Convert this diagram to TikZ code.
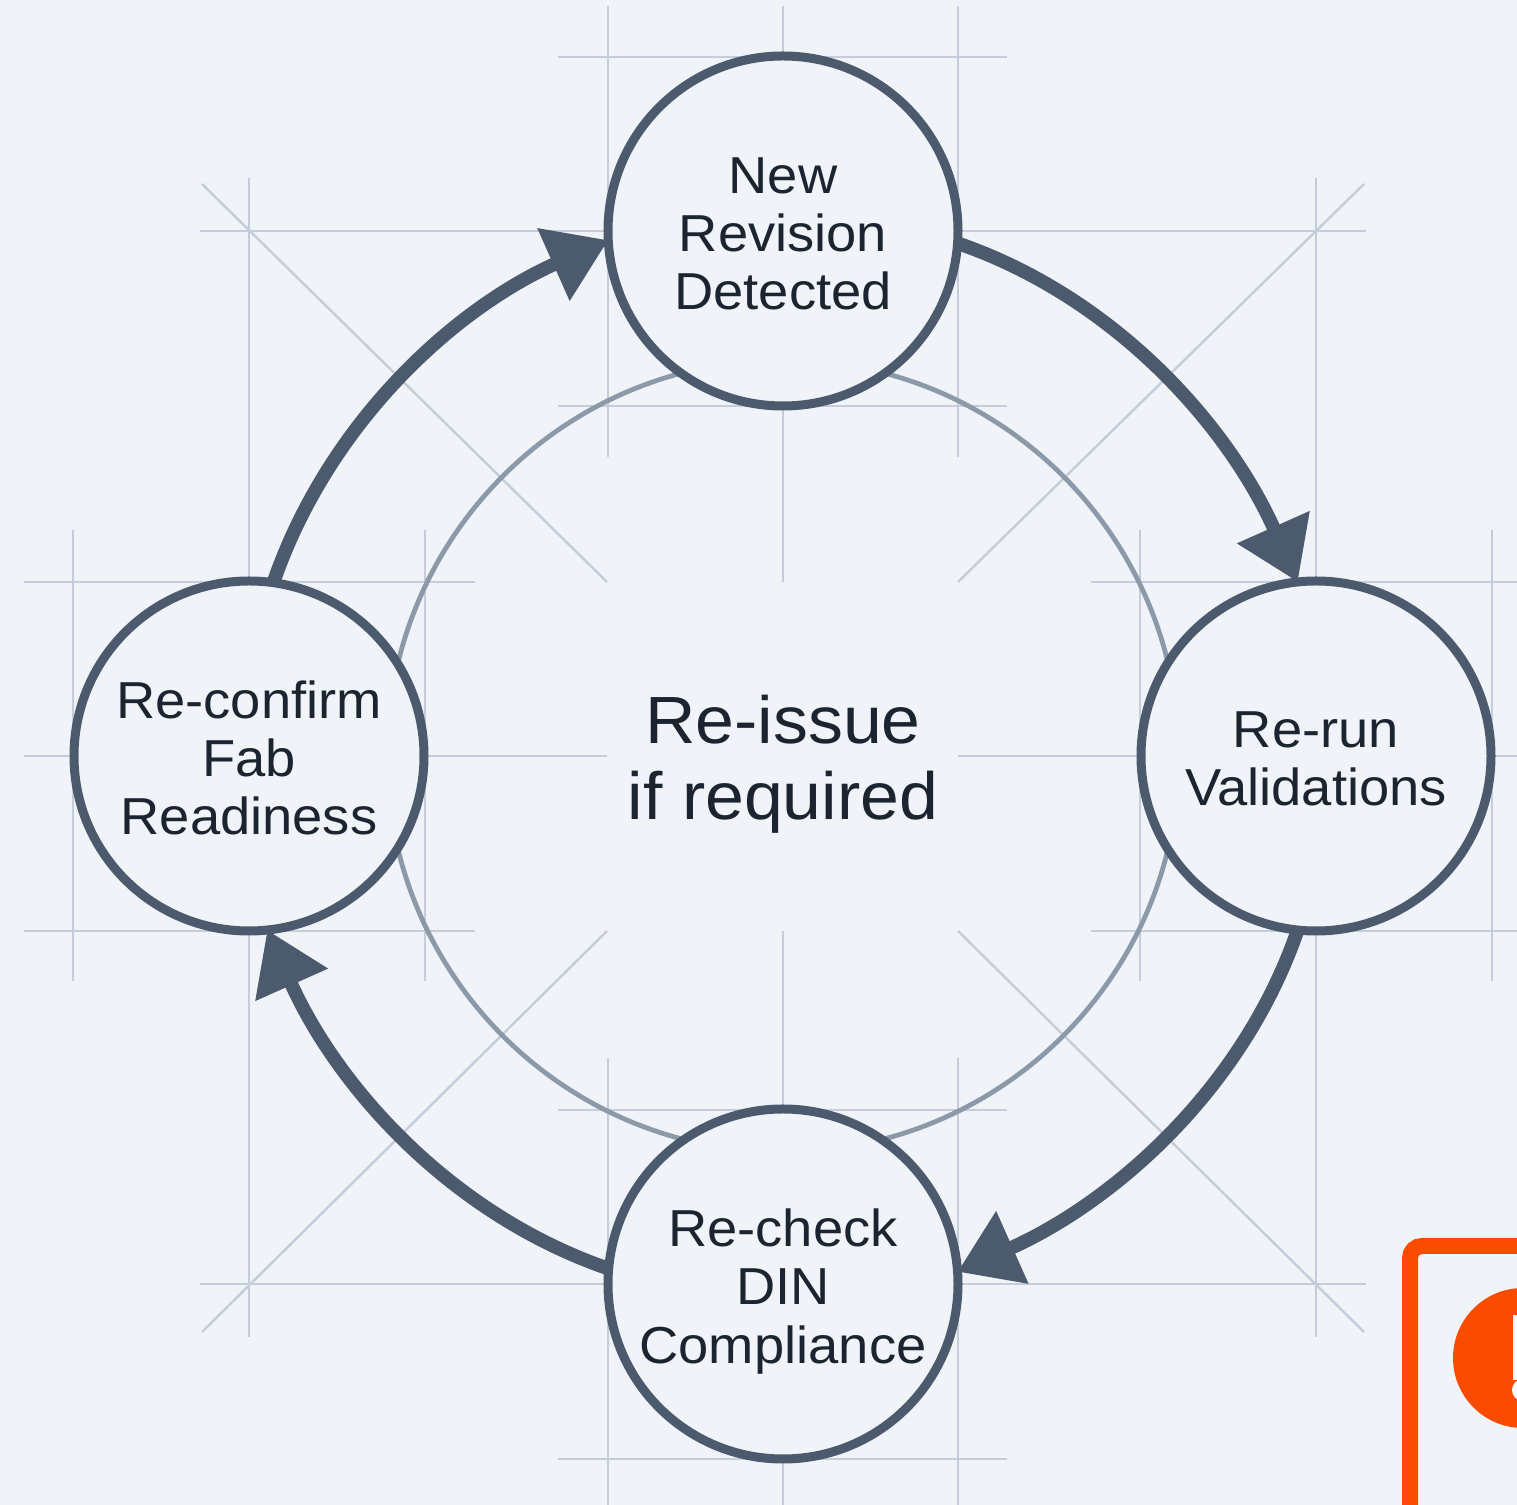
\documentclass[tikz,border=0pt]{standalone}
\usepackage{fontspec}
\setmainfont[FakeStretch=1.045]{Liberation Sans}
\usetikzlibrary{arrows.meta}
\definecolor{bgc}{HTML}{F0F4F9}
\definecolor{guide}{HTML}{C4CDD9}
\definecolor{ringc}{HTML}{8C99A9}
\definecolor{slate}{HTML}{4C5A6D}
\definecolor{ink}{HTML}{1C2430}
\definecolor{alert}{HTML}{F94C00}
\tikzset{
  guideline/.style={draw=guide,line width=1.2pt},
  stage/.style={circle,draw=slate,fill=bgc,line width=4.5pt,minimum size=175pt,inner sep=0pt,outer sep=0pt,
    align=center,text=ink,font=\fontsize{26}{29.2}\selectfont},
  centre/.style={align=center,text=ink,inner sep=0pt,font=\fontsize{33.4}{38}\selectfont},
  flow/.style={draw=slate,line width=6.8pt,looseness=0.9,-{Triangle[length=30pt,width=38pt]}}
}
\newcommand{\lift}{\rule{0pt}{20.8pt}}
\begin{document}
\begin{tikzpicture}[x=0.5pt,y=0.5pt]
\useasboundingbox (0,0) rectangle (1517,1505);
\clip (0,0) rectangle (1517,1505);
\fill[bgc] (0,0) rectangle (1517,1505);
% construction guides: top
\foreach \yy in {1448,1099,395,46} \draw[guideline] (558,\yy) -- (1007,\yy);
\foreach \xx in {608,958} {\draw[guideline] (\xx,1499) -- (\xx,1048); \draw[guideline] (\xx,447) -- (\xx,0);}
\draw[guideline] (783,1499) -- (783,923);
\draw[guideline] (783,574) -- (783,0);
% left and right squares
\foreach \yy in {923,574} {\draw[guideline] (24,\yy) -- (475,\yy); \draw[guideline] (1091,\yy) -- (1517,\yy);}
\foreach \xx in {73,425,1140,1492} \draw[guideline] (\xx,975) -- (\xx,524);
\draw[guideline] (24,749) -- (607,749);
\draw[guideline] (958,749) -- (1517,749);
\foreach \yy in {1274,221} \draw[guideline] (200,\yy) -- (1366,\yy);
\foreach \xx in {249,1316} {\draw[guideline] (\xx,1327) -- (\xx,923); \draw[guideline] (\xx,574) -- (\xx,168);}
\draw[guideline] (202,1321) -- (607,923);
\draw[guideline] (1364,1321) -- (958,923);
\draw[guideline] (202,173) -- (607,574);
\draw[guideline] (1364,173) -- (958,574);
% inner ring
\draw[ringc,line width=2.4pt] (783,749) circle[radius=396];
% stages
\node[stage] (top) at (783,1274) {\lift New\\Revision\\Detected};
\node[stage] (right) at (1316,749) {\lift Re-run\\Validations};
\node[stage] (bottom) at (783,221) {\lift Re-check\\DIN\\\smash{Compliance}};
\node[stage] (left) at (249,749) {\lift Re-confirm\\Fab\\Readiness};
\node[centre] (mid) at (783,741) {Re-issue\\if required};
% flow
\draw[flow] (top.-4.5) to[out=-19,in=114] (right.96);
\draw[flow] (right.-96) to[out=-109,in=24] (bottom.4.5);
\draw[flow] (bottom.175.5) to[out=161,in=-66] (left.-84);
\draw[flow] (left.82.5) to[out=71,in=-156] (top.-177);
% clipped alert box
\draw[alert,line width=8pt,rounded corners=6pt] (1410,-100) -- (1410,259) -- (1700,259);
\fill[alert] (1523,147) circle[radius=70];
\fill[white] (1513,125) rectangle (1533,190);
\fill[white] (1523,115) circle[radius=11];
\end{tikzpicture}
\end{document}
